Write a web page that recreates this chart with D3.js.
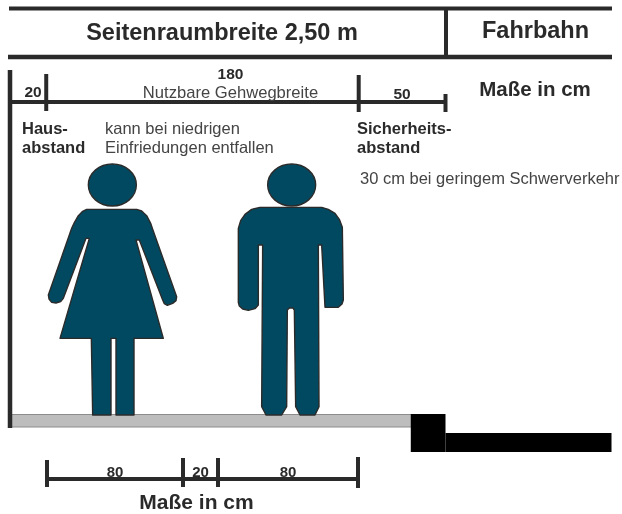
<!DOCTYPE html>
<html>
<head>
<meta charset="utf-8">
<title>Seitenraumbreite</title>
<script src="https://cdn.jsdelivr.net/npm/d3@7"></script>
<style>
  html, body { margin: 0; padding: 0; background: #fff; }
  svg { display: block; }
  text { font-family: "Liberation Sans", Arial, sans-serif; fill: #2b2b2b; }
  .b { font-weight: bold; }
  .n { fill: #444; }
</style>
</head>
<body>
<div id="chart"></div>
<script>
// cross section values, all in cm
var topSegments = [20, 180, 50];
var topLabels = ["20", "180", "50"];
var walkSegments = [80, 20, 80];
var walkLabels = ["80", "20", "80"];
var title = "Seitenraumbreite 2,50 m";
var roadTitle = "Fahrbahn";
var unitLabel = "Maße in cm";
var usableLabel = "Nutzbare Gehwegbreite";
var houseLabel = ["Haus-", "abstand"];
var fenceLabel = ["kann bei niedrigen", "Einfriedungen entfallen"];
var safetyLabel = ["Sicherheits-", "abstand"];
var lorryLabel = "30 cm bei geringem Schwerverkehr";

// pictogram outlines, traced in a 990x840 box
var womanOutline = [[170,178],[320,178],[335,183],[350,197],[362,220],[368,238],[440,440],[438,452],[428,460],[412,466],[403,461],[398,450],[328,270],[318,270],[400,565],[312,565],[312,795],[258,795],[258,565],[243,565],[243,795],[188,795],[184,565],[90,565],[178,265],[168,265],[100,445],[92,455],[78,459],[65,457],[57,447],[55,435],[125,235],[133,218],[145,197],[158,184]];
var manOutline = [[690,172],[875,172],[895,178],[915,190],[928,208],[937,232],[940,450],[936,462],[925,472],[885,472],[875,285],[865,285],[867,770],[855,795],[810,795],[797,770],[793,480],[789,474],[778,474],[772,480],[770,770],[755,795],[708,795],[695,770],[698,285],[685,285],[685,465],[675,476],[655,481],[638,477],[628,468],[625,458],[625,235],[632,212],[645,193],[665,178]];
var heads = [[247,105],[785,105]];

var width = 622, height = 514;
var svg = d3.select("#chart").append("svg")
  .attr("width", width)
  .attr("height", height);

// the scan is a little soft
svg.append("defs").append("filter").attr("id", "soft")
  .append("feGaussianBlur").attr("stdDeviation", 0.45);
var g = svg.append("g").attr("filter", "url(#soft)");

var x = d3.scaleLinear().domain([0, 250]).range([11.5, 445.5]);
// the lower dimension line is not quite even in the drawing
var walkX = d3.scaleLinear().domain([0, 80, 100, 180]).range([47, 183, 218, 358]);
var figX = d3.scaleLinear().domain([0, 990]).range([30, 360]);
var figY = d3.scaleLinear().domain([0, 840]).range([150, 430]);
var figLine = d3.line()
  .x(function (d) { return figX(d[0]); })
  .y(function (d) { return figY(d[1]); })
  .curve(d3.curveLinearClosed);

function rule(x1, y1, x2, y2, w) {
  g.append("line")
    .attr("x1", x1).attr("y1", y1)
    .attr("x2", x2).attr("y2", y2)
    .style("stroke", "#2b2b2b")
    .style("stroke-width", w);
}
function label(str, px, py, size, cls, anchor) {
  g.append("text")
    .attr("class", cls)
    .attr("x", px).attr("y", py)
    .attr("text-anchor", anchor || "start")
    .style("font-size", size + "px")
    .text(str);
}
function lines(arr, px, py, size, cls, step) {
  arr.forEach(function (s, i) { label(s, px, py + i * step, size, cls); });
}

// header band
rule(9, 8.5, 612, 8.5, 4);
rule(8, 57, 612, 57, 4.5);
rule(446, 10, 446, 56, 4);
label(title, 222, 40, 23.5, "b", "middle");
label(roadTitle, 535.5, 38, 23.5, "b", "middle");

// ground, curb and road
g.append("rect")
  .attr("x", x(0)).attr("y", 414.5)
  .attr("width", 400).attr("height", 12.5)
  .style("fill", "#bdbdbd")
  .style("stroke", "#8c8c8c")
  .style("stroke-width", 1);
g.append("rect")
  .attr("x", x(230)).attr("y", 414)
  .attr("width", x(250) - x(230)).attr("height", 38)
  .style("fill", "#000");
g.append("rect")
  .attr("x", x(250)).attr("y", 433)
  .attr("width", 166).attr("height", 19)
  .style("fill", "#000");

// house wall
rule(10, 70, 10, 428, 4.5);

// upper dimension line
var topEdges = d3.cumsum(topSegments);
var dimY = 102;
rule(10, dimY, x(250), dimY, 4);
var topTicks = [[74, 111], [75, 112], [94, 112]];
topEdges.forEach(function (e, i) {
  rule(x(e), topTicks[i][0], x(e), topTicks[i][1], 4);
});
label(topLabels[0], 33, 97, 15.5, "b", "middle");
label(topLabels[1], 230.5, 79, 15.5, "b", "middle");
label(topLabels[2], x(topEdges[1] + topSegments[2] / 2), 99, 15.5, "b", "middle");
label(usableLabel, 230.5, 98, 16.6, "n", "middle");
label(unitLabel, 535, 96, 20.5, "b", "middle");

lines(houseLabel, 22, 134, 16.5, "b", 19);
lines(fenceLabel, 105, 134, 16.5, "n", 18.5);
lines(safetyLabel, 357, 134, 16.5, "b", 19);
label(lorryLabel, 360, 184, 16.5, "n");

// pictograms
[womanOutline, manOutline].forEach(function (o) {
  g.append("path")
    .attr("d", figLine(o))
    .style("fill", "#024a60")
    .style("stroke", "#2b2b2b")
    .style("stroke-width", 1.4)
    .style("stroke-linejoin", "round");
});
g.selectAll("ellipse.head")
  .data(heads)
  .enter()
  .append("ellipse")
  .attr("class", "head")
  .attr("cx", function (d) { return figX(d[0]); })
  .attr("cy", function (d) { return figY(d[1]); })
  .attr("rx", 24)
  .attr("ry", 21)
  .style("fill", "#024a60")
  .style("stroke", "#2b2b2b")
  .style("stroke-width", 1.4);

// lower dimension line
var walkEdges = [0].concat(Array.from(d3.cumsum(walkSegments)));
var lowY = 479;
var lowTicks = [[460, 487], [458, 487], [458, 487], [457, 488]];
rule(walkX(0), lowY, walkX(180), lowY, 4);
walkEdges.forEach(function (e, i) {
  rule(walkX(e), lowTicks[i][0], walkX(e), lowTicks[i][1], 4);
});
walkLabels.forEach(function (s, i) {
  label(s, walkX((walkEdges[i] + walkEdges[i + 1]) / 2), 477, 15, "b", "middle");
});
label(unitLabel, 196.5, 509, 21, "b", "middle");
</script>
</body>
</html>
